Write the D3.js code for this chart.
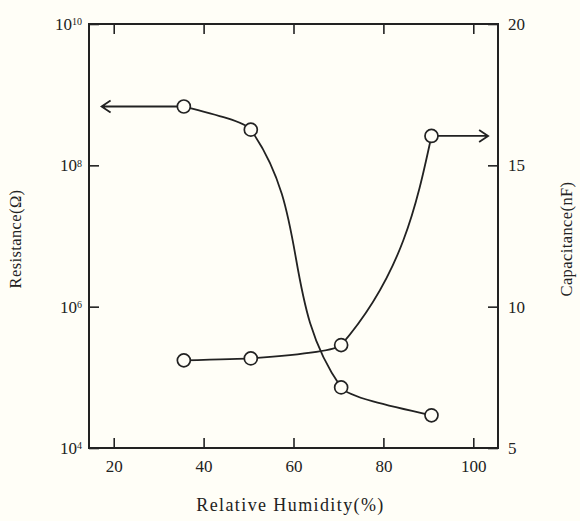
<!DOCTYPE html>
<html lang="en">
<head>
	<meta charset="UTF-8">
	<title>Resistance and capacitance vs relative humidity</title>
	<script type="text/javascript" src="https://cdn.jsdelivr.net/npm/d3@7/dist/d3.min.js"></script>
	<style>
		body { margin: 0; background: #fffef7; }
		text { font-family: "Liberation Serif", "DejaVu Serif", serif; fill: #222; }
		.curve { fill: none; stroke: #222; stroke-width: 1.8px; }
		.dot { fill: #fffef7; stroke: #222; stroke-width: 1.7px; }
	</style>
</head>
<body>
<script type="text/javascript">
	// measured points (humidity %, value)
	var humidity = [35.6, 50.5, 70.6, 90.7];
	var resistance = [6.8e8, 3.2e8, 7.2e4, 2.9e4];
	var capacitance = [8.1, 8.17, 8.64, 16.04];

	var xTicks = [20, 40, 60, 80, 100];
	var rTicks = [1e4, 1e6, 1e8, 1e10];
	var cTicks = [5, 10, 15, 20];

	// where the "belongs to this axis" arrows end, in humidity units
	var arrowR = 17.3;
	var arrowC = 103.3;

	window.onload = function () {
		var W = 580, H = 521;
		var margin = { top: 24, left: 89, bottom: 73, right: 82 };
		var width = W - margin.left - margin.right;
		var height = H - margin.top - margin.bottom;

		var svg = d3.select('body')
			.append('svg')
				.attr('width', W)
				.attr('height', H)
			.append('g')
				.attr('transform', 'translate(' + margin.left + ',' + margin.top + ')');

		var x = d3.scaleLinear().domain([14.5, 105.5]).range([0, width]);
		var yR = d3.scaleLog().domain([1e4, 1e10]).range([height, 0]);
		var yC = d3.scaleLinear().domain([5, 20]).range([height, 0]);

		// axes, ticks pointing inward
		var gx = svg.append('g')
			.attr('transform', 'translate(0,' + height + ')')
			.call(d3.axisBottom(x).tickValues(xTicks).tickSize(-10).tickSizeOuter(0).tickPadding(12));

		var gt = svg.append('g')
			.call(d3.axisTop(x).tickValues(xTicks).tickSize(-10).tickSizeOuter(0).tickFormat(''));

		var gl = svg.append('g')
			.call(d3.axisLeft(yR).tickValues(rTicks).tickSize(-10).tickSizeOuter(0).tickPadding(7)
				.tickFormat(function () { return ''; }));

		gl.selectAll('.tick text').each(function (d) {
			var t = d3.select(this);
			t.append('tspan').text('10');
			t.append('tspan')
				.attr('dy', '-0.45em')
				.style('font-size', '10px')
				.text(Math.round(Math.log10(d)));
		});

		var gr = svg.append('g')
			.attr('transform', 'translate(' + width + ',0)')
			.call(d3.axisRight(yC).tickValues(cTicks).tickSize(-10).tickSizeOuter(0).tickPadding(10));

		[gx, gt, gl, gr].forEach(function (g) {
			g.select('.domain').remove();
			g.selectAll('.tick line').attr('stroke', '#222').attr('stroke-width', 1.6);
			g.selectAll('.tick text').style('font-size', '17px').attr('fill', '#222');
		});

		// frame
		svg.append('rect')
			.attr('width', width)
			.attr('height', height)
			.attr('fill', 'none')
			.attr('stroke', '#222')
			.attr('stroke-width', 2);

		var rData = humidity.map(function (h, i) { return [h, resistance[i]]; });
		var cData = humidity.map(function (h, i) { return [h, capacitance[i]]; });

		// both curves are monotone in y, which gives the steep turns of the original
		var lineR = d3.line()
			.x(function (d) { return x(d[0]); })
			.y(function (d) { return yR(d[1]); })
			.curve(d3.curveMonotoneY);

		var lineC = d3.line()
			.x(function (d) { return x(d[0]); })
			.y(function (d) { return yC(d[1]); })
			.curve(d3.curveMonotoneY);

		svg.append('path').attr('class', 'curve').attr('d', lineR(rData));
		svg.append('path').attr('class', 'curve').attr('d', lineC(cData));

		// arrows pointing to the axis each curve is read on
		var ay = yR(rData[0][1]);
		var tip = x(arrowR);
		svg.append('path').attr('class', 'curve')
			.attr('d', 'M' + x(rData[0][0]) + ',' + ay + 'H' + tip +
				'M' + (tip + 9) + ',' + (ay - 6) + 'L' + tip + ',' + ay + 'L' + (tip + 9) + ',' + (ay + 6));

		var cy = yC(cData[3][1]);
		var tip2 = x(arrowC);
		svg.append('path').attr('class', 'curve')
			.attr('d', 'M' + x(cData[3][0]) + ',' + cy + 'H' + tip2 +
				'M' + (tip2 - 9) + ',' + (cy - 6) + 'L' + tip2 + ',' + cy + 'L' + (tip2 - 9) + ',' + (cy + 6));

		svg.selectAll('.dotR')
			.data(rData)
			.enter().append('circle')
			.attr('class', 'dot')
			.attr('r', 6.5)
			.attr('cx', function (d) { return x(d[0]); })
			.attr('cy', function (d) { return yR(d[1]); });

		svg.selectAll('.dotC')
			.data(cData)
			.enter().append('circle')
			.attr('class', 'dot')
			.attr('r', 6.5)
			.attr('cx', function (d) { return x(d[0]); })
			.attr('cy', function (d) { return yC(d[1]); });

		// axis titles
		svg.append('text')
			.attr('x', width / 2 - 3)
			.attr('y', height + 63)
			.attr('text-anchor', 'middle')
			.style('font-size', '18px')
			.style('letter-spacing', '1.4px')
			.text('Relative Humidity(%)');

		svg.append('text')
			.attr('transform', 'translate(' + (-68) + ',' + 215 + ') rotate(-90)')
			.attr('text-anchor', 'middle')
			.style('font-size', '16.5px')
			.style('letter-spacing', '0.4px')
			.text('Resistance(\u03A9)');

		svg.append('text')
			.attr('transform', 'translate(' + (width + 74) + ',' + 215 + ') rotate(-90)')
			.attr('text-anchor', 'middle')
			.style('font-size', '16.5px')
			.style('letter-spacing', '0.4px')
			.text('Capacitance(nF)');
	};
</script>
</body>
</html>
